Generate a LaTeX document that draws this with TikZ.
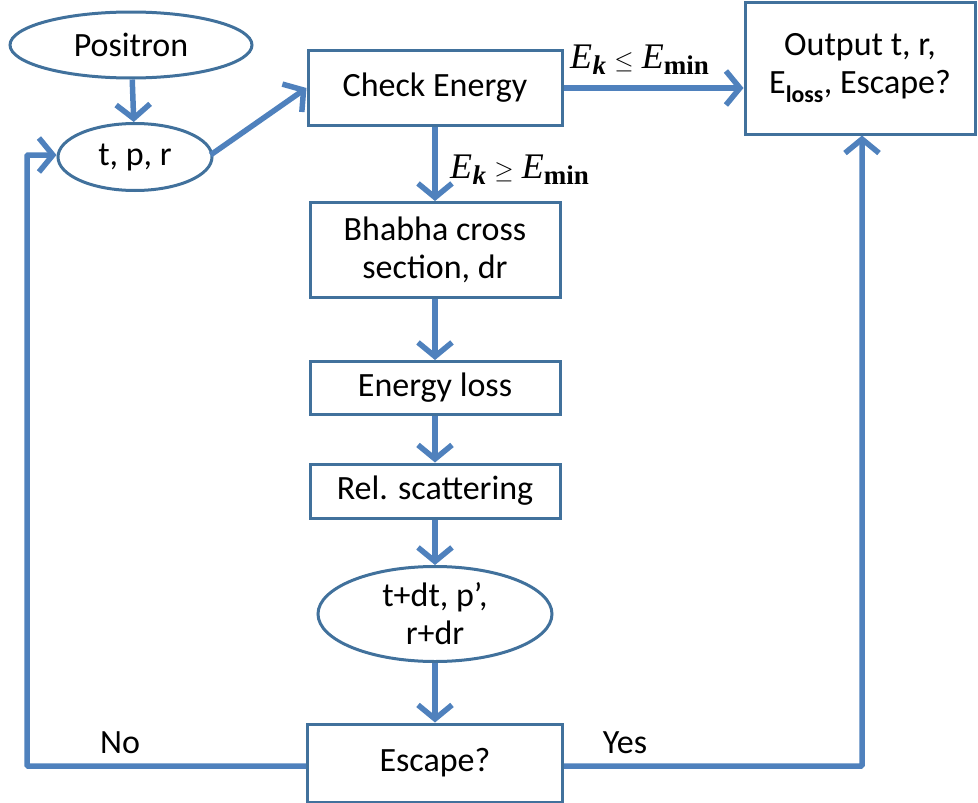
\documentclass[tikz,border=0pt]{standalone}
\usepackage{fontspec}
\setmainfont{Carlito}
\newfontfamily\tms{Liberation Serif}
\usetikzlibrary{arrows.meta,shapes.geometric}
\definecolor{boxblue}{HTML}{41719C}
\definecolor{arrblue}{HTML}{4F81BD}
\tikzset{
  every node/.style={font=\fontsize{34}{38}\selectfont, text=black},
  boxnode/.style={draw=boxblue, line width=3pt, rectangle, align=center, inner sep=0pt},
  ellnode/.style={draw=boxblue, line width=3pt, ellipse, align=center, inner sep=0pt},
  arr/.style={draw=arrblue, line width=5.5pt, -{Straight Barb[length=14pt,width=34pt,line width=5.5pt]}},
  lbl/.style={font=\fontsize{34}{38}\selectfont},
  mlbl/.style={font=\fontsize{36}{40}\selectfont, inner sep=0pt}
}
\newcommand{\Ek}{{\tms\itshape E}\kern0.5pt\raisebox{-0.35ex}{\fontsize{27}{29}\selectfont\tms\itshape\bfseries k}}
\newcommand{\Emin}{{\tms\itshape E}\raisebox{-0.35ex}{\fontsize{27}{29}\selectfont\tms\bfseries min}}
\begin{document}
\begin{tikzpicture}[x=1pt,y=-1pt]
\useasboundingbox (0,0) rectangle (978,803);
\node[ellnode, minimum width=242pt, minimum height=66pt] (pos) at (131,45) {Positron};
\node[ellnode, minimum width=154pt, minimum height=67pt] (tpr) at (135,157) {t, p, r};
\node[boxnode, minimum width=254pt, minimum height=75pt] (chk) at (435,88) {Check Energy};
\node[boxnode, minimum width=230pt, minimum height=132pt] (out) at (860,68) {Output t, r,\\E\textsubscript{\bfseries loss}, Escape?};
\node[boxnode, minimum width=250pt, minimum height=95pt] (bha) at (435,250) {Bhabha cross\\section, dr};
\node[boxnode, minimum width=250pt, minimum height=53pt] (eloss) at (435,388) {Energy loss};
\node[boxnode, minimum width=250pt, minimum height=54pt] (rel) at (435,491) {Rel. scattering};
\node[ellnode, minimum width=234pt, minimum height=95pt] (tdt) at (435,614) {t+dt, p’,\\r+dr};
\node[boxnode, minimum width=255pt, minimum height=78pt] (esc) at (435,763) {Escape?};
\coordinate (nocornerA) at (27,766);
\coordinate (nocornerB) at (27,155);
\coordinate (yescorner) at (862,766);

\draw[arr] (pos) -- (tpr);
\draw[arr] (tpr.east) ++(-3,-2) -- (chk.west);
\draw[arr] (chk.east) -- (out.west |- chk.east);
\node[mlbl, anchor=base west] (lle) at (570,68) {\Ek\ $\leq$ \Emin};
\draw[arr] (chk) -- (bha);
\node[mlbl, anchor=base west] (lge) at (450,178) {\Ek\ $\geq$ \Emin};
\draw[arr] (bha) -- (eloss);
\draw[arr] (eloss) -- (rel);
\draw[arr] (rel) -- (tdt);
\draw[arr] (tdt) -- (esc);
\draw[arr, rounded corners=1pt] (esc.west |- nocornerA) -- (nocornerA) -- (nocornerB) -- (tpr.west |- nocornerB);
\draw[arr, rounded corners=1pt] (esc.east |- yescorner) -- (yescorner) -- (yescorner |- out.south);
\node[lbl] (no) at (120,743) {No};
\node[lbl] (yes) at (625,743) {Yes};
\end{tikzpicture}
\end{document}
